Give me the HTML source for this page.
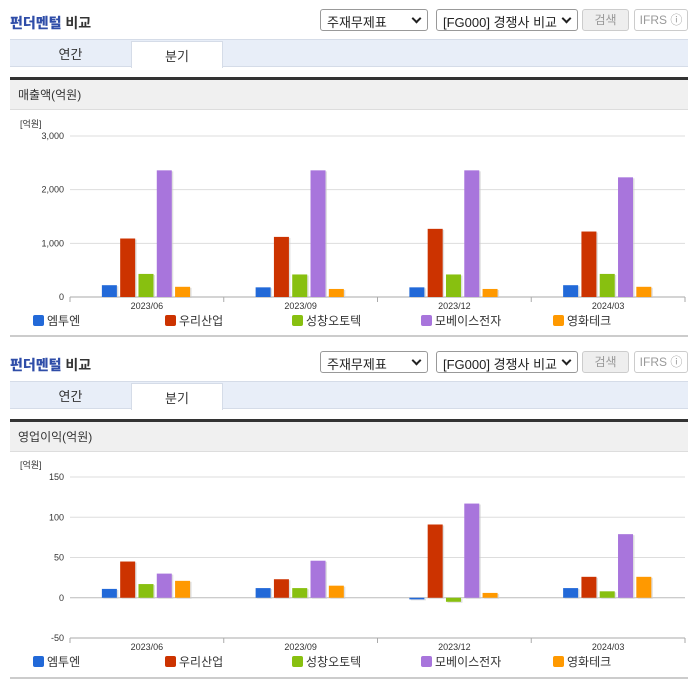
<!DOCTYPE html>
<html><head><meta charset="utf-8">
<style>
*{box-sizing:border-box;margin:0;padding:0}
body{width:696px;height:684px;background:#fff;font-family:"Liberation Sans","Noto Sans CJK KR",sans-serif;position:relative;overflow:hidden}
.abs{position:absolute}
.title{font-size:14px;font-weight:bold;color:#333}
.title b{color:#2f4da8}
.sel{border:1px solid #999;border-radius:3px;height:22px;font-size:13px;color:#222;padding:2px 6px;background:#fff}
.sel:after{content:"";position:absolute;right:7px;top:5px;width:5px;height:5px;border-right:2px solid #222;border-bottom:2px solid #222;transform:rotate(45deg)}
.btn{border:1px solid #ccc;border-radius:3px;height:22px;font-size:12px;color:#999;text-align:center;line-height:20px}
.tabs{left:10px;width:678px;height:28px;background:#e8eef8;border-top:1px solid #d5dce8;border-bottom:1px solid #d5dce8}
.tab{font-size:13px;color:#333;text-align:center;height:28px;display:flex;align-items:center;justify-content:center}
.dark{left:10px;width:678px;height:3px;background:#333}
.hdr{left:10px;width:678px;height:30px;background:#f0f0f0;font-size:12px;color:#333;line-height:30px;padding-left:8px;border-bottom:1px solid #ddd}
.bottom{left:10px;width:678px;height:2px;background:#ccc}
svg text{font-family:"Liberation Sans","Noto Sans CJK KR",sans-serif}
</style></head><body>
<div id="root"></div>
<script>
const categories=["2023/06","2023/09","2023/12","2024/03"];
const seriesNames=["엠투엔","우리산업","성창오토텍","모베이스전자","영화테크"];
const colors=["#2269d8","#cc3300","#88c010","#a875dc","#ff9900"];
const salesEmtuen=[220,180,180,220];
const salesWoori=[1090,1120,1270,1220];
const salesSeongchang=[430,420,420,430];
const salesMobase=[2360,2360,2360,2230];
const salesYounghwa=[190,150,150,190];
const opEmtuen=[11,12,-2,12];
const opWoori=[45,23,91,26];
const opSeongchang=[17,12,-5,8];
const opMobase=[30,46,117,79];
const opYounghwa=[21,15,6,26];
const salesTicks=[0,1000,2000,3000];
const salesTickLabels=["0","1,000","2,000","3,000"];
const opTicks=[-50,0,50,100,150];
const opTickLabels=["-50","0","50","100","150"];

const root=document.getElementById('root');
function section(off,hdrText,chartFn){
  let h='';
  h+=`<div class="abs title" style="left:10px;top:${13+off}px"><b>펀더멘털</b> 비교</div>`;
  h+=`<div class="abs sel" style="left:320px;top:${9+off}px;width:108px">주재무제표</div>`;
  h+=`<div class="abs sel" style="left:436px;top:${9+off}px;width:142px">[FG000] 경쟁사 비교</div>`;
  h+=`<div class="abs btn" style="left:582px;top:${9+off}px;width:47px;background:#eee">검색</div>`;
  h+=`<div class="abs btn" style="left:634px;top:${9+off}px;width:54px">IFRS ⓘ</div>`;
  h+=`<div class="abs tabs" style="top:${39+off}px"></div>`;
  h+=`<div class="abs tab" style="left:10px;top:${39+off}px;width:121px">연간</div>`;
  h+=`<div class="abs tab" style="left:131px;top:${41+off}px;width:92px;height:27px;background:#fff;border:1px solid #d5dce8;border-bottom:none">분기</div>`;
  h+=`<div class="abs dark" style="top:${77+off}px"></div>`;
  h+=`<div class="abs hdr" style="top:${80+off}px">${hdrText}</div>`;
  h+=`<div class="abs bottom" style="top:${335+off}px"></div>`;
  h+=chartFn(off);
  return h;
}
function chart(off,data,ticks,labels,yMin,yMax,yTop,yBot){
  const x0=70,x1=685,cw=(x1-x0)/categories.length;
  const y=v=>yBot-(v-yMin)/(yMax-yMin)*(yBot-yTop);
  let s=`<svg class="abs" style="left:0;top:${off}px" width="696" height="340">`;
  s+=`<text x="20" y="${y(yMax)-9}" font-size="9" fill="#333">[억원]</text>`;
  ticks.forEach((t,i)=>{
    s+=`<line x1="${x0}" x2="${x1}" y1="${y(t)}" y2="${y(t)}" stroke="${t===0?'#bbb':'#ddd'}" stroke-width="1"/>`;
    s+=`<text x="64" y="${y(t)+3}" font-size="9" text-anchor="end" fill="#333">${labels[i]}</text>`;
  });
  const base=yMin<0?y(yMin):y(0);
  s+=`<line x1="${x0}" x2="${x1}" y1="${base}" y2="${base}" stroke="#aaa"/>`;
  for(let c=0;c<=categories.length;c++){const xx=x0+c*cw;s+=`<line x1="${xx}" x2="${xx}" y1="${base}" y2="${base+5}" stroke="#aaa"/>`;}
  categories.forEach((cat,c)=>{
    const cx=x0+(c+0.5)*cw;
    s+=`<text x="${cx}" y="${base+12}" font-size="9" text-anchor="middle" fill="#333">${cat}</text>`;
    data.forEach((arr,k)=>{
      const bx=cx-45+k*18.3,v=arr[c];
      const yt=Math.min(y(v),y(0)),hh=Math.abs(y(v)-y(0));
      s+=`<rect x="${bx+1.5}" y="${yt+1}" width="15" height="${hh}" fill="#ccc" opacity="0.6"/>`;
      s+=`<rect x="${bx}" y="${yt}" width="15" height="${hh}" fill="${colors[k]}"/>`;
    });
  });
  const lx=[33,165,292,421,553];
  seriesNames.forEach((n,k)=>{
    s+=`<rect x="${lx[k]}" y="${base+18}" width="11" height="11" rx="2" fill="${colors[k]}"/>`;
    s+=`<text x="${lx[k]+14}" y="${base+28}" font-size="12" fill="#333">${n}</text>`;
  });
  return s+'</svg>';
}
let html=section(0,'매출액(억원)',off=>chart(off,[salesEmtuen,salesWoori,salesSeongchang,salesMobase,salesYounghwa],salesTicks,salesTickLabels,0,3000,136,297));
html+=section(342,'영업이익(억원)',off=>chart(off,[opEmtuen,opWoori,opSeongchang,opMobase,opYounghwa],opTicks,opTickLabels,-50,150,135,296));
root.innerHTML=html;
</script>
</body></html>
